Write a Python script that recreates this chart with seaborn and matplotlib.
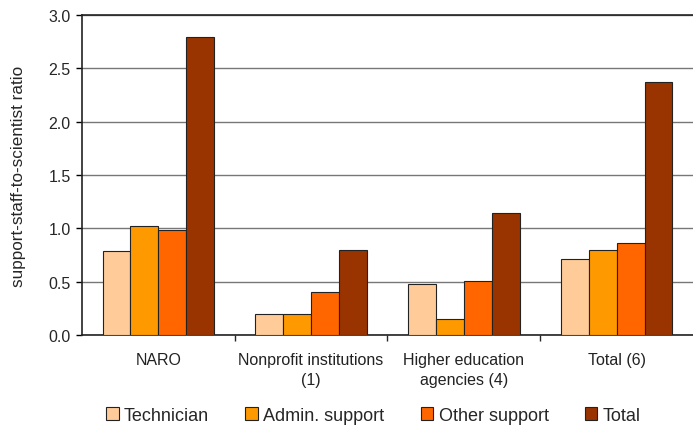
import matplotlib
matplotlib.use("Agg")
import matplotlib.pyplot as plt
import numpy as np
import pandas as pd
import seaborn as sns

groups = ["NARO", "Nonprofit institutions\n(1)", "Higher education\nagencies (4)", "Total (6)"]
series = ["Technician", "Admin. support", "Other support", "Total"]
technician = [0.79, 0.20, 0.48, 0.71]
admin = [1.02, 0.20, 0.15, 0.80]
other = [0.98, 0.40, 0.51, 0.86]
total = [2.79, 0.80, 1.14, 2.37]
colors = ["#FFCC99", "#FF9900", "#FF6600", "#993300"]

rows = []
for name, vals in zip(series, [technician, admin, other, total]):
    for g, v in zip(groups, vals):
        rows.append({"group": g, "series": name, "ratio": v})
df = pd.DataFrame(rows)

sns.set_style("white")
plt.rcParams["font.family"] = ["Liberation Sans", "DejaVu Sans"]

fig = plt.figure(figsize=(6.93, 4.27), dpi=100)
ax = fig.add_axes([0.1183, 0.2131, 0.8817, 0.7494])

sns.barplot(data=df, x="group", y="ratio", hue="series", order=groups,
            hue_order=series, palette=colors, width=0.73, gap=0,
            edgecolor="#222222", linewidth=0.8, saturation=1, ax=ax, zorder=3)

ax.set_ylim(0, 3.0)
ax.set_xlim(-0.5, 3.5)
ax.set_yticks(np.arange(0, 3.01, 0.5))
ax.set_yticklabels([f"{v:.1f}" for v in np.arange(0, 3.01, 0.5)], fontsize=11.5)
ax.yaxis.grid(True, color="#777777", linewidth=1.0, zorder=0)
ax.set_axisbelow(True)
ax.tick_params(axis="y", direction="out", length=4, width=1, color="black", left=True, pad=4)
ax.set_xticks(range(len(groups)))
ax.set_xticklabels(groups, fontsize=11.5, color="#222222", linespacing=1.45)
ax.set_xticks([0.5, 1.5, 2.5], minor=True)
ax.tick_params(axis="x", which="major", length=0, pad=12)
ax.tick_params(axis="x", which="minor", direction="out", length=4, width=1, bottom=True)
ax.set_xlabel("")
ax.set_ylabel("support-staff-to-scientist ratio", fontsize=12.3, labelpad=16)

for side in ["left", "bottom", "top"]:
    ax.spines[side].set_color("#222222")
    ax.spines[side].set_linewidth(1.2)
ax.spines["right"].set_visible(False)

handles, labels = ax.get_legend_handles_labels()
ax.legend(handles, labels, loc="center", bbox_to_anchor=(0.477, -0.25),
          ncol=4, frameon=False, fontsize=13, handlelength=0.7,
          handleheight=0.7, handletextpad=0.3, columnspacing=2.0,
          borderpad=0)

fig.savefig("out.png", dpi=100)
